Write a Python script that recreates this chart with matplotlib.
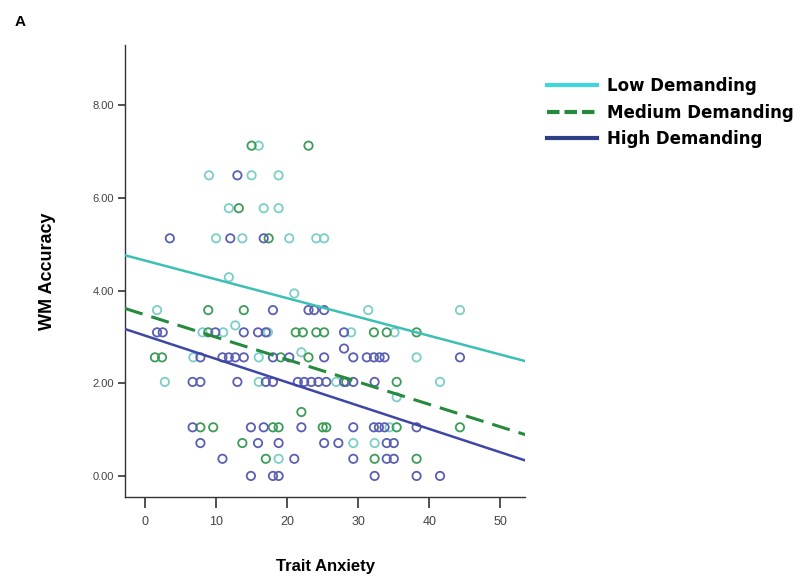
import matplotlib
matplotlib.use("Agg")
import matplotlib.pyplot as plt
from matplotlib.lines import Line2D
import numpy as np

plt.rcParams['font.family'] = ['Liberation Sans', 'DejaVu Sans']

# scatter points (trait anxiety, WM accuracy)
low_x = [16, 9, 15, 18.8, 11.8, 16.7, 18.8, 10, 13.7, 20.3, 24.1, 25.2, 11.8, 21,
         1.7, 31.4, 44.3, 12.7, 8.1, 11, 29, 35.1, 17.3, 16, 6.8, 22, 38.2,
         2.8, 16, 26.9, 41.5, 35.4, 34.4, 29.3, 32.3, 18.8]
low_y = [7.13, 6.49, 6.49, 6.49, 5.78, 5.78, 5.78, 5.13, 5.13, 5.13, 5.13, 5.13, 4.29, 3.94,
         3.58, 3.58, 3.58, 3.25, 3.1, 3.1, 3.1, 3.1, 3.1, 2.56, 2.56, 2.67, 2.56,
         2.03, 2.03, 2.03, 2.03, 1.7, 1.05, 0.71, 0.71, 0.37]

med_x = [15, 23, 13.2, 17.4, 8.9, 13.9, 8.9, 21.2, 22.2, 24.1, 25.2, 32.2, 34, 38.2,
         1.4, 2.4, 19.1, 23, 35.4, 22, 7.8, 9.6, 18, 18.8, 25, 35.4, 44.3,
         13.7, 17, 32.3, 38.2, 25.5, 28.3]
med_y = [7.13, 7.13, 5.78, 5.13, 3.58, 3.58, 3.1, 3.1, 3.1, 3.1, 3.1, 3.1, 3.1, 3.1,
         2.56, 2.56, 2.56, 2.56, 2.03, 1.38, 1.05, 1.05, 1.05, 1.05, 1.05, 1.05, 1.05,
         0.71, 0.37, 0.37, 0.37, 1.05, 2.03]

high_x = [13, 3.5, 12, 16.7, 18, 23, 23.8, 25.2, 1.7, 2.5, 9.9, 13.9, 15.9, 17, 28,
          7.8, 10.9, 11.8, 12.7, 13.9, 18, 20.3, 25.2, 29.3, 31.2, 32.2, 33, 33.7, 44.3, 28,
          6.7, 7.8, 13, 17, 18, 21.5, 22.4, 23.4, 24.4, 25.5, 28, 29.3, 32.3,
          6.7, 14.9, 16.7, 22, 29.3, 32.2, 32.9, 33.7, 38.2,
          7.8, 15.9, 18.8, 25.2, 27.2, 34, 35,
          10.9, 21, 29.3, 34, 35, 14.9, 18, 18.8, 32.3, 38.2, 41.5]
high_y = [6.49, 5.13, 5.13, 5.13, 3.58, 3.58, 3.58, 3.58, 3.1, 3.1, 3.1, 3.1, 3.1, 3.1, 3.1,
          2.56, 2.56, 2.56, 2.56, 2.56, 2.56, 2.56, 2.56, 2.56, 2.56, 2.56, 2.56, 2.56, 2.56, 2.75,
          2.03, 2.03, 2.03, 2.03, 2.03, 2.03, 2.03, 2.03, 2.03, 2.03, 2.03, 2.03, 2.03,
          1.05, 1.05, 1.05, 1.05, 1.05, 1.05, 1.05, 1.05, 1.05,
          0.71, 0.71, 0.71, 0.71, 0.71, 0.71, 0.71,
          0.37, 0.37, 0.37, 0.37, 0.37, 0, 0, 0, 0, 0, 0]

# fit lines (intercept, slope) as drawn
low_fit = (4.65, -0.0406)
med_fit = (3.48, -0.0484)
high_fit = (3.03, -0.0504)

x_ticks = [0, 10, 20, 30, 40, 50]
y_ticks = [0, 2, 4, 6, 8]

c_low, c_low_line = "#7ccfc6", "#3cc0b6"
c_med, c_med_line = "#3c9c58", "#268a3e"
c_high, c_high_line = "#5b5fb2", "#3e46a6"

fig = plt.figure(figsize=(8.12, 5.79), dpi=100)
ax = fig.add_axes([0.154, 0.142, 0.493, 0.78])

mk = dict(marker="o", s=36, facecolors="none", linewidths=1.3, zorder=3)
ax.scatter(low_x, low_y, edgecolors=c_low, **mk)
ax.scatter(med_x, med_y, edgecolors=c_med, **mk)
ax.scatter(high_x, high_y, edgecolors=c_high, **mk)

xlo, xhi = -2.8, 53.5
xs = np.array([xlo, xhi])
ax.plot(xs, low_fit[0] + low_fit[1] * xs, color=c_low_line, lw=1.8, zorder=4)
ax.plot(xs, med_fit[0] + med_fit[1] * xs, color=c_med_line, lw=2.2, ls=(0, (6, 3)), zorder=4)
ax.plot(xs, high_fit[0] + high_fit[1] * xs, color=c_high_line, lw=1.8, zorder=4)

ax.set_xlim(xlo, xhi)
ax.set_ylim(-0.45, 9.3)
ax.set_xticks(x_ticks)
ax.set_xticklabels([str(t) for t in x_ticks])
ax.set_yticks(y_ticks)
ax.set_yticklabels([f"{t:.2f}" for t in y_ticks])
ax.spines["top"].set_visible(False)
ax.spines["right"].set_visible(False)
for s in ("left", "bottom"):
    ax.spines[s].set_color("#333333")
    ax.spines[s].set_linewidth(1.0)
ax.tick_params(axis="x", length=8, width=1.2, color="#333333", labelsize=9, labelcolor="#444444", pad=6)
ax.tick_params(axis="y", length=5, width=1.2, color="#333333", labelsize=8, labelcolor="#444444", pad=3)

ax.set_xlabel("Trait Anxiety", fontsize=12, fontweight="bold", labelpad=22)
ax.set_ylabel("WM Accuracy", fontsize=13, fontweight="bold", labelpad=26)

fig.text(0.018, 0.962, "A", fontsize=11, fontweight="bold", va="center")

handles = [
    Line2D([], [], color="#3fd6dc", lw=3),
    Line2D([], [], color=c_med_line, lw=3, ls=(0, (3, 1.2))),
    Line2D([], [], color="#2e3f86", lw=3),
]
fig.legend(handles, ["Low Demanding", "Medium Demanding", "High Demanding"],
           loc="upper left", bbox_to_anchor=(0.665, 0.878), frameon=False,
           prop=dict(family="DejaVu Sans", size=12, weight="bold"),
           handlelength=3.0, handletextpad=0.6,
           labelspacing=0.5, borderaxespad=0)

fig.savefig("out.png", dpi=100)
